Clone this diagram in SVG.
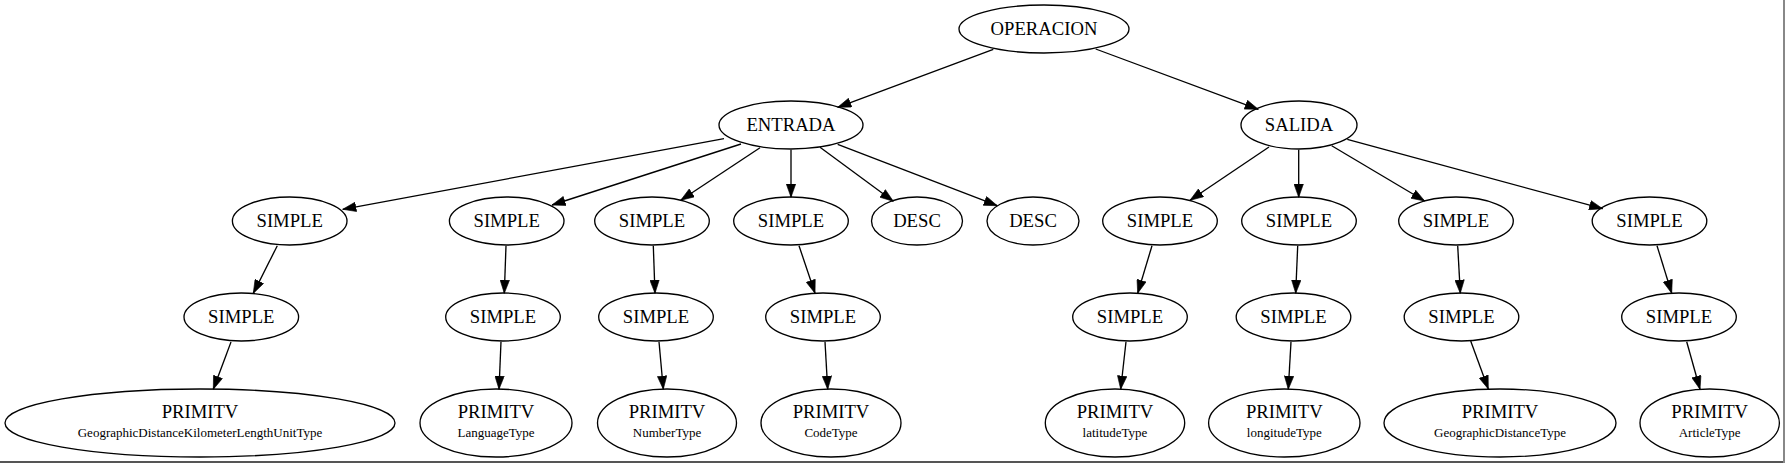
<svg xmlns="http://www.w3.org/2000/svg" width="1785" height="463" viewBox="0 0 1785 463">
<style>
.node ellipse{fill:none;stroke:#000;stroke-width:1.33}
.node text{font-family:"Liberation Serif","Times New Roman",serif;font-size:18.67px;fill:#000;text-anchor:middle}
.node text.sub{font-size:13px}
#edges line{stroke:#000;stroke-width:1.33;marker-end:url(#arr)}
</style>
<defs>
<marker id="arr" markerUnits="userSpaceOnUse" viewBox="0 0 14 10" markerWidth="14" markerHeight="10" refX="13.6" refY="5" orient="auto">
<path d="M0.3,0.3 L13.6,5 L0.3,9.7 z" fill="#000" stroke="#000" stroke-width="0.6"/>
</marker>
</defs>
<rect width="1785" height="463" fill="#fff"/>
<g id="edges">
<line x1="993.3" y1="49.3" x2="837.7" y2="107.3"/>
<line x1="1095.7" y1="49" x2="1258.3" y2="109.3"/>
<line x1="724" y1="138.7" x2="342.7" y2="209.3"/>
<line x1="741" y1="144" x2="552" y2="205"/>
<line x1="760" y1="147.7" x2="680.7" y2="200.3"/>
<line x1="791" y1="149.7" x2="791" y2="197.3"/>
<line x1="820" y1="147.3" x2="893.3" y2="201.3"/>
<line x1="837.7" y1="144.3" x2="997.3" y2="205.7"/>
<line x1="1269" y1="147" x2="1190" y2="200.3"/>
<line x1="1298.7" y1="149.7" x2="1298.7" y2="197.3"/>
<line x1="1331.7" y1="145.7" x2="1424.7" y2="201"/>
<line x1="1347.3" y1="139.3" x2="1602.7" y2="208.7"/>
<line x1="277.3" y1="245.7" x2="253.3" y2="293.3"/>
<line x1="506" y1="245.7" x2="504.3" y2="293.3"/>
<line x1="653.3" y1="245.7" x2="655" y2="293.3"/>
<line x1="799" y1="245.7" x2="815" y2="293.3"/>
<line x1="1152" y1="245.7" x2="1137.7" y2="293.3"/>
<line x1="1297.7" y1="245.7" x2="1295.7" y2="293.3"/>
<line x1="1457.7" y1="245.7" x2="1460.3" y2="293.3"/>
<line x1="1657" y1="245.7" x2="1671.7" y2="293.3"/>
<line x1="231" y1="342" x2="213.3" y2="389.3"/>
<line x1="501" y1="341.7" x2="499" y2="389.3"/>
<line x1="659" y1="341.7" x2="663.3" y2="389.3"/>
<line x1="825" y1="341.7" x2="827.7" y2="389.3"/>
<line x1="1126" y1="341.7" x2="1120.7" y2="389.3"/>
<line x1="1291" y1="341.7" x2="1288.3" y2="389.3"/>
<line x1="1470.7" y1="341" x2="1488.3" y2="389"/>
<line x1="1686.7" y1="341.7" x2="1700" y2="389.3"/>
</g>
<g id="n_operacion" class="node"><ellipse cx="1044" cy="29" rx="85" ry="24"/><text x="1044" y="34.7">OPERACION</text></g>
<g id="n_entrada" class="node"><ellipse cx="791" cy="125" rx="72" ry="24"/><text x="791" y="130.7">ENTRADA</text></g>
<g id="n_salida" class="node"><ellipse cx="1299" cy="125" rx="58" ry="24"/><text x="1299" y="130.7">SALIDA</text></g>
<g id="n_s1" class="node"><ellipse cx="289.7" cy="221" rx="57.3" ry="24"/><text x="289.7" y="226.7">SIMPLE</text></g>
<g id="n_s2" class="node"><ellipse cx="506.7" cy="221" rx="57.3" ry="24"/><text x="506.7" y="226.7">SIMPLE</text></g>
<g id="n_s3" class="node"><ellipse cx="652" cy="221" rx="57.3" ry="24"/><text x="652" y="226.7">SIMPLE</text></g>
<g id="n_s4" class="node"><ellipse cx="791" cy="221" rx="57.3" ry="24"/><text x="791" y="226.7">SIMPLE</text></g>
<g id="n_d1" class="node"><ellipse cx="917" cy="221" rx="45.5" ry="24"/><text x="917" y="226.7">DESC</text></g>
<g id="n_d2" class="node"><ellipse cx="1033" cy="221" rx="46" ry="24"/><text x="1033" y="226.7">DESC</text></g>
<g id="n_s5" class="node"><ellipse cx="1160" cy="221" rx="57.3" ry="24"/><text x="1160" y="226.7">SIMPLE</text></g>
<g id="n_s6" class="node"><ellipse cx="1299" cy="221" rx="57.3" ry="24"/><text x="1299" y="226.7">SIMPLE</text></g>
<g id="n_s7" class="node"><ellipse cx="1456" cy="221" rx="57.3" ry="24"/><text x="1456" y="226.7">SIMPLE</text></g>
<g id="n_s8" class="node"><ellipse cx="1649.5" cy="221" rx="57.3" ry="24"/><text x="1649.5" y="226.7">SIMPLE</text></g>
<g id="n_t1" class="node"><ellipse cx="241.3" cy="317" rx="57.3" ry="24"/><text x="241.3" y="322.7">SIMPLE</text></g>
<g id="n_t2" class="node"><ellipse cx="503" cy="317" rx="57.3" ry="24"/><text x="503" y="322.7">SIMPLE</text></g>
<g id="n_t3" class="node"><ellipse cx="656" cy="317" rx="57.3" ry="24"/><text x="656" y="322.7">SIMPLE</text></g>
<g id="n_t4" class="node"><ellipse cx="823" cy="317" rx="57.3" ry="24"/><text x="823" y="322.7">SIMPLE</text></g>
<g id="n_t5" class="node"><ellipse cx="1130" cy="317" rx="57.3" ry="24"/><text x="1130" y="322.7">SIMPLE</text></g>
<g id="n_t6" class="node"><ellipse cx="1293.5" cy="317" rx="57.3" ry="24"/><text x="1293.5" y="322.7">SIMPLE</text></g>
<g id="n_t7" class="node"><ellipse cx="1461.5" cy="317" rx="57.3" ry="24"/><text x="1461.5" y="322.7">SIMPLE</text></g>
<g id="n_t8" class="node"><ellipse cx="1679" cy="317" rx="57.3" ry="24"/><text x="1679" y="322.7">SIMPLE</text></g>
<g id="n_p1" class="node"><ellipse cx="200" cy="423" rx="195" ry="34"/><text x="200" y="418">PRIMITV</text><text class="sub" x="200" y="437">GeographicDistanceKilometerLengthUnitType</text></g>
<g id="n_p2" class="node"><ellipse cx="496" cy="423" rx="76" ry="34"/><text x="496" y="418">PRIMITV</text><text class="sub" x="496" y="437">LanguageType</text></g>
<g id="n_p3" class="node"><ellipse cx="667" cy="423" rx="69.5" ry="34"/><text x="667" y="418">PRIMITV</text><text class="sub" x="667" y="437">NumberType</text></g>
<g id="n_p4" class="node"><ellipse cx="831" cy="423" rx="70" ry="34"/><text x="831" y="418">PRIMITV</text><text class="sub" x="831" y="437">CodeType</text></g>
<g id="n_p5" class="node"><ellipse cx="1115" cy="423" rx="69.7" ry="34"/><text x="1115" y="418">PRIMITV</text><text class="sub" x="1115" y="437">latitudeType</text></g>
<g id="n_p6" class="node"><ellipse cx="1284.3" cy="423" rx="75.7" ry="34"/><text x="1284.3" y="418">PRIMITV</text><text class="sub" x="1284.3" y="437">longitudeType</text></g>
<g id="n_p7" class="node"><ellipse cx="1500" cy="423" rx="116" ry="34"/><text x="1500" y="418">PRIMITV</text><text class="sub" x="1500" y="437">GeographicDistanceType</text></g>
<g id="n_p8" class="node"><ellipse cx="1709.7" cy="423" rx="69.7" ry="34"/><text x="1709.7" y="418">PRIMITV</text><text class="sub" x="1709.7" y="437">ArticleType</text></g>
<rect x="0" y="461" width="1785" height="2" fill="#555"/>
<rect x="1783" y="0" width="2" height="463" fill="#888"/>
</svg>
